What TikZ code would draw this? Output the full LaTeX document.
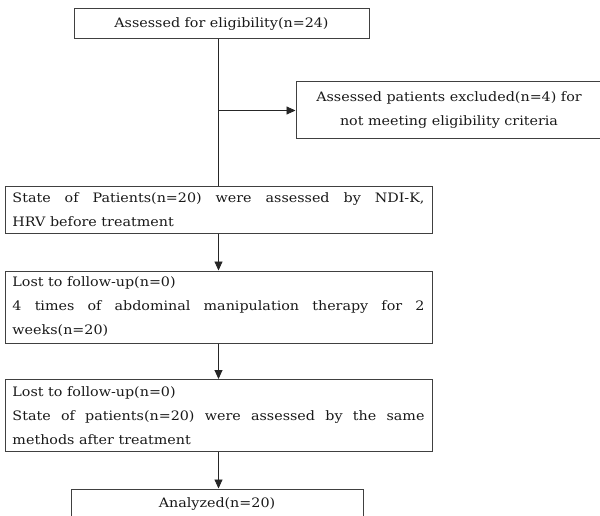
\documentclass[tikz,border=0pt]{standalone}
\usepackage{fontspec}
\setmainfont{DejaVu Serif}[FakeStretch=1.1]
\usetikzlibrary{arrows.meta,positioning}

\begin{document}
\begin{tikzpicture}[
    x=1pt, y=1pt,
    font=\fontsize{13}{24}\selectfont,
    box/.style={rectangle, draw=black!75, line width=1pt, text=black!90, inner xsep=7.5pt, inner ysep=0pt, align=center},
    wide/.style={box, text width=412pt, align=justify},
    link/.style={black!85, line width=0.9pt},
    arrow/.style={link, -{Triangle[length=9pt,width=8pt]}},
]
\useasboundingbox (0,0) rectangle (600,-516);

% Eligibility
\node[box, minimum width=295pt, minimum height=30pt] (elig) at (221.5,-24) {Assessed for eligibility(n=24)};

% Excluded
\node[box, minimum width=306pt, minimum height=57pt] (excl) at (449,-110.5) {Assessed patients excluded(n=4) for\\ not meeting eligibility criteria};

% Before treatment
\node[wide, minimum height=46pt] (pre) at (218.5,-210) {State of Patients(n=20) were assessed by NDI-K,\linebreak HRV before treatment};
\draw[link] (elig.south -| pre.north) -- (pre.north);
\coordinate (split) at (pre.north |- excl.west);
\draw[arrow] (split) -- (excl.west);

% Treatment
\node[wide, minimum height=72pt] (treat) at (218.5,-307) {Lost to follow-up(n=0)\\ 4 times of abdominal manipulation therapy for 2\linebreak weeks(n=20)};
\draw[arrow] (pre) -- (treat);

% After treatment
\node[wide, minimum height=72pt] (post) at (218.5,-415.5) {Lost to follow-up(n=0)\\ State of patients(n=20) were assessed by the same\linebreak methods after treatment};
\draw[arrow] (treat) -- (post);

% Analysis
\node[box, minimum width=292pt, minimum height=30pt] (anal) at (217,-504) {Analyzed(n=20)};
\draw[arrow] (post.south) -- (post.south |- anal.north);
\end{tikzpicture}
\end{document}
